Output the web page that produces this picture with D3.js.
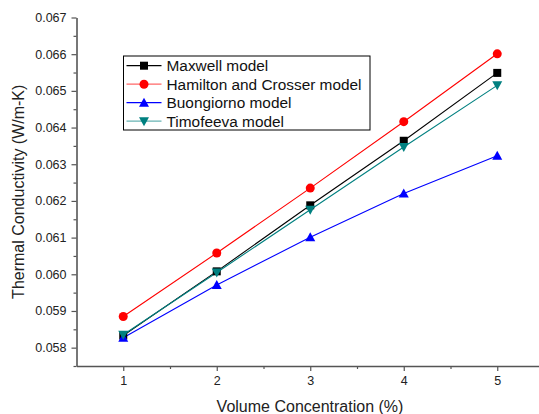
<!DOCTYPE html>
<html>
<head>
<meta charset="utf-8">
<script src="https://d3js.org/d3.v7.min.js"></script>
<style>
  body { margin: 0; background: #fff; }
  svg { display: block; font-family: "Liberation Sans", Arial, sans-serif; }
</style>
</head>
<body>
<div id="chart"></div>
<script>
// Data
const concentration = [1, 2, 3, 4, 5];
const maxwell = [0.05833, 0.06008, 0.06188, 0.06364, 0.06549];
const hamilton = [0.05885, 0.06058, 0.06235, 0.06416, 0.06601];
const buongiorno = [0.05827, 0.05971, 0.06101, 0.06220, 0.06323];
const timofeeva = [0.05835, 0.06005, 0.06176, 0.06347, 0.06515];
const xTicks = [1, 2, 3, 4, 5];
const yTicks = [0.058, 0.059, 0.060, 0.061, 0.062, 0.063, 0.064, 0.065, 0.066, 0.067];

const series = [
    { name: "Maxwell model", values: maxwell, color: "#000000", marker: "square" },
    { name: "Hamilton and Crosser model", values: hamilton, color: "#ff0000", marker: "circle" },
    { name: "Buongiorno model", values: buongiorno, color: "#0000ff", marker: "up" },
    { name: "Timofeeva model", values: timofeeva, color: "#008080", marker: "down" }
];

const width = 539, height = 414;
const plotLeft = 76.5, plotTop = 17.5, plotBottom = 366;

const svg = d3.select("#chart").append("svg")
    .attr("width", width)
    .attr("height", height);

const x = d3.scaleLinear().domain([0.5, 5.5]).range([plotLeft, plotLeft + 93.5 * 5]);
const y = d3.scaleLinear().domain([0.0575, 0.067]).range([plotBottom, plotTop]);

const axisColor = "#555";

// Y axis
const yAxis = svg.append("g").attr("transform", `translate(${plotLeft},0)`);
yAxis.call(d3.axisLeft(y).tickValues(yTicks).tickFormat(d3.format(".3f")).tickSize(5).tickSizeOuter(0));
svg.append("g").attr("transform", `translate(${plotLeft},0)`)
    .call(d3.axisLeft(y).tickValues(d3.range(0.0575, 0.0671, 0.001)).tickFormat("").tickSize(3).tickSizeOuter(0))
    .call(g => g.select(".domain").remove());

// X axis
const xAxis = svg.append("g").attr("transform", `translate(0,${plotBottom})`);
xAxis.call(d3.axisBottom(x).tickValues(xTicks).tickFormat(d3.format("d")).tickSize(5).tickSizeOuter(0));
svg.append("g").attr("transform", `translate(0,${plotBottom})`)
    .call(d3.axisBottom(x).tickValues([1.5, 2.5, 3.5, 4.5]).tickFormat("").tickSize(3).tickSizeOuter(0))
    .call(g => g.select(".domain").remove());

svg.selectAll(".domain").attr("stroke", axisColor).attr("stroke-width", 1.6);
svg.selectAll(".tick line").attr("stroke", axisColor).attr("stroke-width", 1.2);
svg.selectAll(".tick text").attr("fill", "#222").style("font-size", "12.5px")
    .style("font-family", "'Liberation Sans', Arial, sans-serif");
yAxis.selectAll(".tick text").attr("x", -10);
xAxis.selectAll(".tick text").attr("y", 10);

// Axis titles
svg.append("text")
    .attr("x", 310).attr("y", 412)
    .attr("text-anchor", "middle")
    .style("font-size", "16px")
    .attr("fill", "#222")
    .text("Volume Concentration (%)");

svg.append("text")
    .attr("transform", `translate(24,${(plotTop + plotBottom) / 2}) rotate(-90)`)
    .attr("text-anchor", "middle")
    .style("font-size", "16px")
    .attr("fill", "#222")
    .text("Thermal Conductivity (W/m-K)");

// Marker drawing
function drawMarker(g, type, color, cx, cy) {
    if (type === "square") {
        g.append("rect").attr("x", cx - 4).attr("y", cy - 4).attr("width", 8).attr("height", 8).attr("fill", color);
    } else if (type === "circle") {
        g.append("circle").attr("cx", cx).attr("cy", cy).attr("r", 4.5).attr("fill", color);
    } else if (type === "up") {
        g.append("path").attr("d", `M${cx},${cy - 5}L${cx + 5},${cy + 4}L${cx - 5},${cy + 4}Z`).attr("fill", color);
    } else {
        g.append("path").attr("d", `M${cx},${cy + 5}L${cx + 5},${cy - 4}L${cx - 5},${cy - 4}Z`).attr("fill", color);
    }
}

const line = d3.line().x((d, i) => x(concentration[i])).y(d => y(d));

series.forEach(s => {
    svg.append("path")
        .attr("d", line(s.values))
        .attr("fill", "none")
        .attr("stroke", s.color)
        .attr("stroke-width", 1.1);
});
series.forEach(s => {
    const g = svg.append("g");
    s.values.forEach((v, i) => drawMarker(g, s.marker, s.color, x(concentration[i]), y(v)));
});

// Legend
const legend = svg.append("g");
legend.append("rect")
    .attr("x", 123.5).attr("y", 56)
    .attr("width", 246.5).attr("height", 74)
    .attr("fill", "#fff")
    .attr("stroke", "#000")
    .attr("stroke-width", 1);

series.forEach((s, i) => {
    const ry = 65.7 + i * 18.5;
    legend.append("line")
        .attr("x1", 126.5).attr("x2", 161.5)
        .attr("y1", ry).attr("y2", ry)
        .attr("stroke", s.color)
        .attr("stroke-opacity", s.marker === "circle" || s.marker === "down" ? 0.6 : 1)
        .attr("stroke-width", 1.3);
    drawMarker(legend, s.marker, s.color, 144, ry);
    legend.append("text")
        .attr("x", 166.5).attr("y", ry + 5.5)
        .style("font-size", "15.4px")
        .attr("fill", "#111")
        .text(s.name);
});
</script>
</body>
</html>
